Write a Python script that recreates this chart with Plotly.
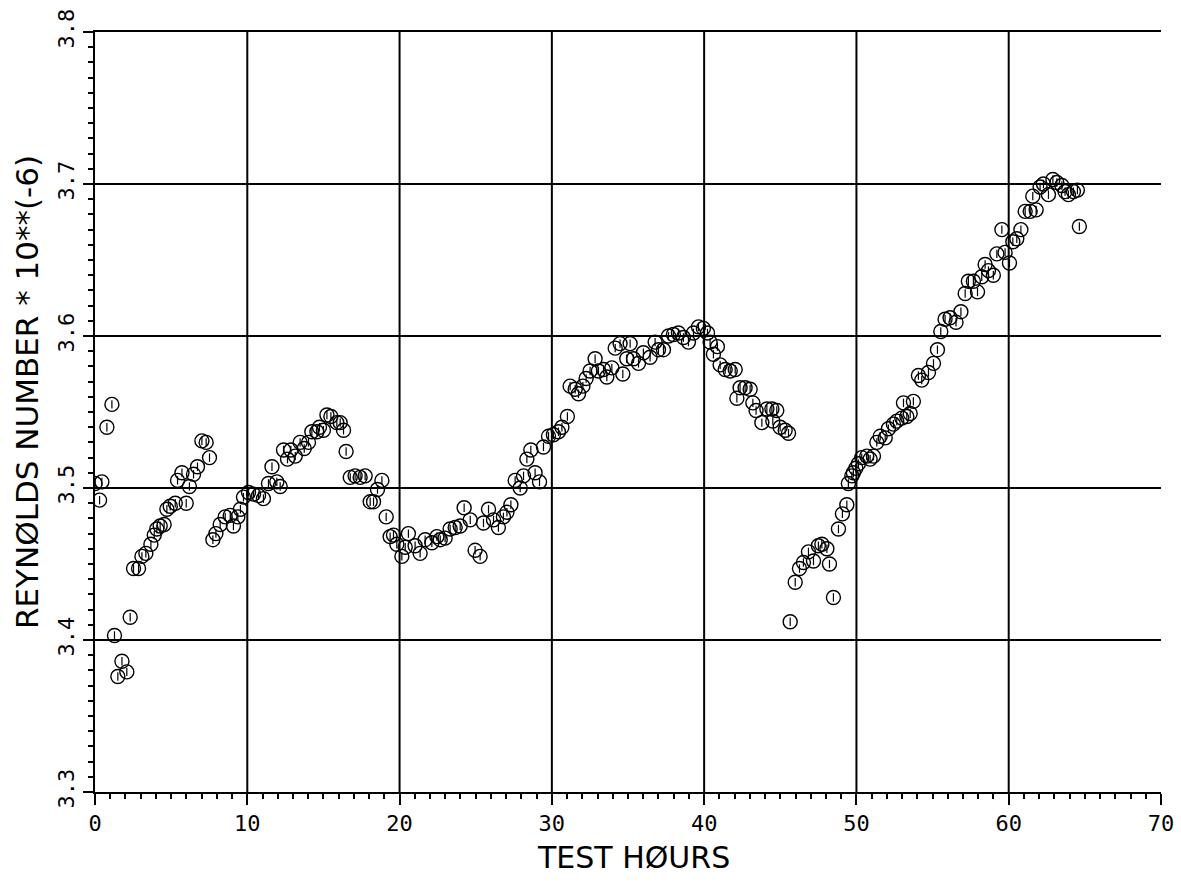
import plotly.graph_objects as go

# Test hours and Reynolds number (x 10^-6) readings
hours = [
    0.00, 0.30, 0.45, 0.78, 1.11, 1.28, 1.50, 1.77, 2.09, 2.31,
    2.53, 2.86, 3.08, 3.34, 3.67, 3.89, 4.06, 4.28, 4.54, 4.72,
    4.94, 5.27, 5.42, 5.71, 5.99, 6.20, 6.47, 6.73, 7.02, 7.30,
    7.52, 7.74, 7.94, 8.22, 8.55, 8.88, 9.09, 9.38, 9.55, 9.75,
    10.08, 10.41, 10.74, 11.06, 11.39, 11.62, 11.94, 12.16, 12.38, 12.64,
    12.86, 13.15, 13.47, 13.74, 14.02, 14.24, 14.57, 14.74, 15.00, 15.23,
    15.49, 15.88, 16.10, 16.32, 16.49, 16.76, 17.08, 17.41, 17.74, 18.07,
    18.29, 18.55, 18.84, 19.12, 19.38, 19.60, 19.82, 20.15, 20.37, 20.58,
    21.02, 21.35, 21.68, 22.12, 22.45, 22.67, 22.99, 23.32, 23.65, 23.98,
    24.24, 24.64, 24.96, 25.29, 25.51, 25.84, 26.17, 26.49, 26.82, 27.05,
    27.31, 27.59, 27.92, 28.14, 28.36, 28.62, 28.90, 29.19, 29.45, 29.78,
    30.10, 30.43, 30.66, 31.02, 31.20, 31.53, 31.75, 32.04, 32.25, 32.51,
    32.84, 33.06, 33.39, 33.61, 33.94, 34.16, 34.48, 34.66, 34.92, 35.14,
    35.36, 35.69, 36.01, 36.45, 36.78, 37.00, 37.33, 37.66, 37.98, 38.31,
    38.64, 38.97, 39.30, 39.63, 39.95, 40.22, 40.39, 40.61, 40.87, 41.05,
    41.38, 41.71, 42.04, 42.15, 42.36, 42.69, 43.02, 43.20, 43.41, 43.79,
    44.12, 44.45, 44.51, 44.77, 44.99, 45.32, 45.54,
    45.65, 45.98, 46.26, 46.52, 46.85, 47.18, 47.50, 47.73, 48.06, 48.23,
    48.49, 48.82, 49.08, 49.37, 49.47, 49.70, 49.80, 49.96, 50.13, 50.35,
    50.68, 50.90, 51.12, 51.34, 51.56, 51.89, 52.10, 52.43, 52.65, 52.98,
    53.09, 53.31, 53.53, 53.74, 54.07, 54.29, 54.73, 55.06, 55.32, 55.54,
    55.82, 56.15, 56.54, 56.86, 57.14, 57.35, 57.68, 57.95, 58.23, 58.45,
    58.67, 58.99, 59.22, 59.55, 59.76, 60.05, 60.27, 60.53, 60.80, 61.08,
    61.41, 61.58, 61.80, 62.06, 62.28, 62.61, 62.90, 63.16, 63.49, 63.70,
    63.92, 64.25, 64.51, 64.64,
]

reynolds = [
    3.503, 3.492, 3.504, 3.540, 3.555, 3.403, 3.376, 3.386, 3.379, 3.415,
    3.447, 3.447, 3.455, 3.457, 3.463, 3.469, 3.473, 3.475, 3.476, 3.486,
    3.488, 3.490, 3.505, 3.510, 3.490, 3.501, 3.509, 3.514, 3.531, 3.530,
    3.520, 3.466, 3.470, 3.476, 3.481, 3.482, 3.475, 3.481, 3.486, 3.494,
    3.497, 3.496, 3.495, 3.493, 3.503, 3.514, 3.504, 3.501, 3.525, 3.519,
    3.525, 3.521, 3.530, 3.526, 3.530, 3.537, 3.537, 3.540, 3.538, 3.548,
    3.547, 3.543, 3.543, 3.538, 3.524, 3.507, 3.508, 3.507, 3.508, 3.491,
    3.491, 3.499, 3.505, 3.481, 3.468, 3.469, 3.463, 3.455, 3.461, 3.470,
    3.462, 3.457, 3.466, 3.464, 3.468, 3.466, 3.467, 3.473, 3.474, 3.475,
    3.487, 3.479, 3.459, 3.455, 3.477, 3.486, 3.479, 3.474, 3.481, 3.484,
    3.489, 3.505, 3.500, 3.508, 3.519, 3.525, 3.510, 3.504, 3.527, 3.534,
    3.535, 3.537, 3.540, 3.547, 3.567, 3.565, 3.562, 3.567, 3.572, 3.577,
    3.585, 3.577, 3.578, 3.573, 3.579, 3.592, 3.595, 3.575, 3.585, 3.595,
    3.585, 3.582, 3.589, 3.586, 3.596, 3.591, 3.591, 3.600, 3.601, 3.602,
    3.599, 3.596, 3.602, 3.606, 3.605, 3.602, 3.596, 3.588, 3.593, 3.581,
    3.578, 3.577, 3.578, 3.559, 3.566, 3.566, 3.565, 3.556, 3.551, 3.543,
    3.552, 3.552, 3.544, 3.551, 3.540, 3.538, 3.536,
    3.412, 3.438, 3.447, 3.451, 3.458, 3.452, 3.462, 3.463, 3.460, 3.450,
    3.428, 3.473, 3.483, 3.489, 3.503, 3.508, 3.510, 3.513, 3.516, 3.520,
    3.521, 3.519, 3.521, 3.530, 3.534, 3.533, 3.539, 3.542, 3.544, 3.546,
    3.556, 3.547, 3.549, 3.557, 3.574, 3.571, 3.576, 3.582, 3.591, 3.603,
    3.611, 3.612, 3.609, 3.616, 3.628, 3.636, 3.636, 3.629, 3.639, 3.647,
    3.643, 3.640, 3.654, 3.670, 3.655, 3.648, 3.662, 3.664, 3.670, 3.682,
    3.682, 3.692, 3.683, 3.698, 3.700, 3.693, 3.703, 3.701, 3.699, 3.695,
    3.693, 3.695, 3.696, 3.672,
]

x_ticks = [0, 10, 20, 30, 40, 50, 60, 70]
y_ticks = [3.3, 3.4, 3.5, 3.6, 3.7, 3.8]
x_grid = [10, 20, 30, 40, 50, 60]

FONT = "DejaVu Sans"
MONO = "DejaVu Sans Mono"
INK = "black"

fig = go.Figure()

# plotter symbol: open circle with a small vertical stroke inside
fig.add_trace(go.Scatter(
    x=hours, y=reynolds, mode="markers",
    marker=dict(symbol="circle-open", size=14, color=INK, line=dict(width=1.4, color=INK)),
    showlegend=False, hoverinfo="x+y",
))
fig.add_trace(go.Scatter(
    x=hours, y=reynolds, mode="markers",
    marker=dict(symbol="line-ns-open", size=6, color=INK, line=dict(width=1.2, color=INK)),
    showlegend=False, hoverinfo="skip",
))

# vertical grid lines (no frame line on the right edge)
for gx in x_grid:
    fig.add_shape(type="line", xref="x", yref="paper", x0=gx, x1=gx, y0=0, y1=1,
                  line=dict(color=INK, width=2), layer="below")

fig.update_layout(
    width=1181, height=883,
    margin=dict(l=95, r=20, t=32, b=91, autoexpand=False),
    paper_bgcolor="white", plot_bgcolor="white",
    font=dict(family=FONT, color=INK),
)

fig.update_xaxes(
    range=[0, 70], tickvals=x_ticks, ticktext=[str(v) for v in x_ticks],
    showgrid=False, zeroline=False,
    showline=True, mirror=True, linecolor=INK, linewidth=2,
    ticks="outside", ticklen=11, tickwidth=2, tickcolor=INK,
    minor=dict(dtick=1, ticks="outside", ticklen=5, tickwidth=1.5, tickcolor=INK, showgrid=False),
    tickfont=dict(family=MONO, size=22, color=INK),
)
fig.update_yaxes(
    range=[3.3, 3.8], tickvals=y_ticks, ticktext=["%.1f" % v for v in y_ticks],
    showgrid=True, gridcolor=INK, gridwidth=2, zeroline=False,
    showline=True, linecolor=INK, linewidth=2,
    ticks="outside", ticklen=10, tickwidth=2, tickcolor=INK,
    minor=dict(dtick=0.01, ticks="outside", ticklen=5, tickwidth=1.5, tickcolor=INK, showgrid=False),
    tickangle=-90,
    tickfont=dict(family=MONO, size=22, color=INK),
)

fig.add_annotation(
    text="TEST HØURS", xref="paper", yref="paper", x=0.505, y=-0.086,
    xanchor="center", yanchor="middle", showarrow=False,
    font=dict(family=FONT, size=30, color=INK),
)
fig.add_annotation(
    text="REYNØLDS NUMBER * 10**(-6)", xref="paper", yref="paper", x=-0.064, y=0.526,
    xanchor="center", yanchor="middle", textangle=-90, showarrow=False,
    font=dict(family=FONT, size=31, color=INK),
)

fig.write_html("out.html")
